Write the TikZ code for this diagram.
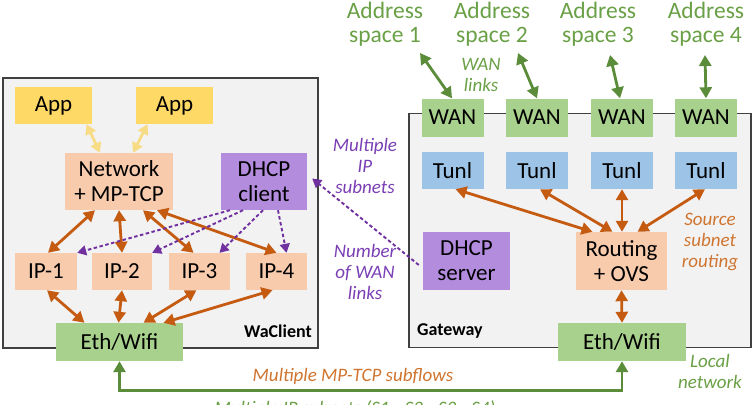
\documentclass[tikz,border=0pt]{standalone}
\usepackage{fontspec}
\setmainfont{Carlito}
\usetikzlibrary{arrows.meta,calc}
\definecolor{peach}{HTML}{F8CBAD}
\definecolor{appyel}{HTML}{FFD966}
\definecolor{grbox}{HTML}{A9D18E}
\definecolor{blbox}{HTML}{9DC3E6}
\definecolor{pubox}{HTML}{B38CDE}
\definecolor{orarr}{HTML}{C55A11}
\definecolor{ortxt}{HTML}{D07530}
\definecolor{grarr}{HTML}{5A8C3A}
\definecolor{grtxt}{HTML}{6AA046}
\definecolor{puarr}{HTML}{7030A0}
\definecolor{putxt}{HTML}{7B3FB5}
\definecolor{yelarr}{HTML}{F7DC85}
\definecolor{contfill}{HTML}{F2F2F2}
\definecolor{contline}{HTML}{404040}
\begin{document}
\begin{tikzpicture}[x=1pt,y=-1pt,
  bx/.style={inner sep=0pt, align=center, text=black, font=\fontsize{23}{25}\selectfont},
  pbox/.style={bx, fill=peach},
  ybox/.style={bx, fill=appyel},
  gbox/.style={bx, fill=grbox},
  bbox/.style={bx, fill=blbox},
  ubox/.style={bx, fill=pubox},
  cont/.style={fill=contfill, draw=contline, line width=1.6pt},
  oarr/.style={draw=orarr, line width=2.8pt, {Triangle[length=11pt,width=12pt]}-{Triangle[length=11pt,width=12pt]}},
  yarr/.style={draw=yelarr, line width=2.8pt, {Triangle[length=10pt,width=11pt]}-{Triangle[length=10pt,width=11pt]}},
  garr/.style={draw=grarr, line width=2.8pt, {Triangle[length=11pt,width=12pt]}-{Triangle[length=11pt,width=12pt]}},
  parr/.style={draw=puarr, line width=1.9pt, dash pattern=on 3.5pt off 2.5pt, -{Triangle[length=9pt,width=10pt]}},
  ilbl/.style={inner sep=0pt, align=center, font=\fontsize{19}{21}\selectfont\itshape},
  blbl/.style={inner sep=0pt, font=\fontsize{18}{20}\selectfont\bfseries},
  albl/.style={inner sep=0pt, align=center, text=grtxt, font=\fontsize{23.5}{24}\selectfont}
]
\useasboundingbox (0,0) rectangle (754,404);
\fill[white] (0,0) rectangle (754,404);

% containers
\node[cont, minimum width=315pt, minimum height=270pt, inner sep=0pt] (waclient) at (160.5,213) {};
\node[cont, minimum width=342pt, minimum height=234pt, inner sep=0pt] (gateway) at (580,230.5) {};

% left boxes
\node[ybox, minimum width=77pt, minimum height=37pt] (app1) at (53.5,105.5) {App};
\node[ybox, minimum width=77pt, minimum height=37pt] (app2) at (174.5,105.5) {App};
\node[pbox, minimum width=108pt, minimum height=57pt] (net) at (119,181.5) {Network\\+ MP-TCP};
\node[ubox, minimum width=86pt, minimum height=57pt] (dhcpc) at (264,181.5) {DHCP\\client};
\node[pbox, minimum width=62pt, minimum height=37pt] (ip1) at (46,271.5) {IP-1};
\node[pbox, minimum width=60pt, minimum height=37pt] (ip2) at (122,271.5) {IP-2};
\node[pbox, minimum width=61pt, minimum height=37pt] (ip3) at (199.5,271.5) {IP-3};
\node[pbox, minimum width=61pt, minimum height=37pt] (ip4) at (276.5,271.5) {IP-4};
\node[gbox, minimum width=127pt, minimum height=38pt] (ethL) at (119.5,342) {Eth/Wifi};
\node[blbl, anchor=east] (walbl) at (312,331) {WaClient};

% right boxes
\foreach \i/\x in {1/452.5,2/537,3/622,4/706}{
  \node[gbox, minimum width=62pt, minimum height=38pt] (wan\i) at (\x,117.5) {WAN};
  \node[bbox, minimum width=62pt, minimum height=37pt] (tunl\i) at (\x,170.5) {Tunl};
}
\node[ubox, minimum width=87pt, minimum height=58pt] (dhcps) at (466.5,261) {DHCP\\server};
\node[pbox, minimum width=91pt, minimum height=58pt] (route) at (621.5,261) {Routing\\+ OVS};
\node[gbox, minimum width=128pt, minimum height=38pt] (ethR) at (622,342) {Eth/Wifi};
\node[blbl, anchor=west] (gwlbl) at (417,331) {Gateway};

% address spaces
\node[albl] (as1) at (385,24.5) {Address\\space 1};
\node[albl] (as2) at (492,24.5) {Address\\space 2};
\node[albl] (as3) at (598,24.5) {Address\\space 3};
\node[albl] (as4) at (706,24.5) {Address\\space 4};
\coordinate (g1) at (420,53);
\coordinate (g2) at (518,53);
\coordinate (g3) at (610,55);
\coordinate (g4) at (705,55);

% labels
\node[ilbl, text=grtxt] (wanl) at (481,75) {WAN\\links};
\node[ilbl, text=putxt] (mips) at (365,166) {Multiple\\IP\\subnets};
\node[ilbl, text=putxt] (nwan) at (365,272) {Number\\of WAN\\links};
\node[ilbl, text=ortxt] (ssr) at (710,242) {Source\\subnet\\routing};
\node[ilbl, text=grtxt] (locn) at (710,371) {Local\\network};
\node[ilbl, text=ortxt] (mptcp) at (353,376) {Multiple MP-TCP subflows};
\node[ilbl, text=grtxt] (mipsub) at (355,409) {Multiple IP subnets (S1 : S2 : S3 : S4)};

% green address arrows
\draw[garr] (g1) -- ([xshift=-0.5pt]wan1.north);
\draw[garr] (g2) -- (wan2.north);
\draw[garr] (g3) -- ([xshift=-2pt]wan3.north);
\draw[garr] (g4) -- (wan4.north);

% app arrows
\draw[yarr] ([xshift=33pt]app1.south) -- ([xshift=-19pt]net.north);
\draw[yarr] ([xshift=-27pt]app2.south) -- ([xshift=14pt]net.north);

% network to IPs
\draw[oarr] ([xshift=-24pt]net.south) -- ([xshift=2pt]ip1.north);
\draw[oarr] (net.south) -- (ip2.north);
\draw[oarr] ([xshift=24pt]net.south) -- ([xshift=-6pt]ip3.north);
\draw[oarr] ([xshift=38pt]net.south) -- (ip4.north);

% DHCP client to IPs
\draw[parr] ([xshift=-34pt]dhcpc.south) -- (ip1.north east);
\draw[parr] ([xshift=-21pt]dhcpc.south) -- (ip2.north east);
\draw[parr] ([xshift=-1pt]dhcpc.south) -- ([xshift=20pt]ip3.north);
\draw[parr] ([xshift=14pt]dhcpc.south) -- ([xshift=10pt]ip4.north);

% IPs to Eth
\draw[oarr] ([xshift=1pt]ip1.south) -- ([xshift=-35pt]ethL.north);
\draw[oarr] (ip2.south) -- ([xshift=-1pt]ethL.north);
\draw[oarr] ([xshift=-3pt]ip3.south) -- ([xshift=24pt]ethL.north);
\draw[oarr] ([xshift=-4pt]ip4.south) -- ([xshift=44pt]ethL.north);

% Tunl to routing
\draw[oarr] ([xshift=3pt]tunl1.south) -- ([xshift=-29pt]route.north);
\draw[oarr] ([xshift=3pt]tunl2.south) -- ([xshift=-9pt]route.north);
\draw[oarr] (tunl3.south) -- ([xshift=0.5pt]route.north);
\draw[oarr] ([xshift=-1pt]tunl4.south) -- ([xshift=16pt]route.north);
\draw[oarr] (route.south) -- (ethR.north);

% DHCP server to client
\draw[parr] ([shift={(-4pt,-4pt)}]dhcps.west) -- ([shift={(5pt,3pt)}]dhcpc.east);

% bottom link
\draw[garr] (ethL.south) -- ++(0,29) -| (ethR.south);
\end{tikzpicture}
\end{document}
